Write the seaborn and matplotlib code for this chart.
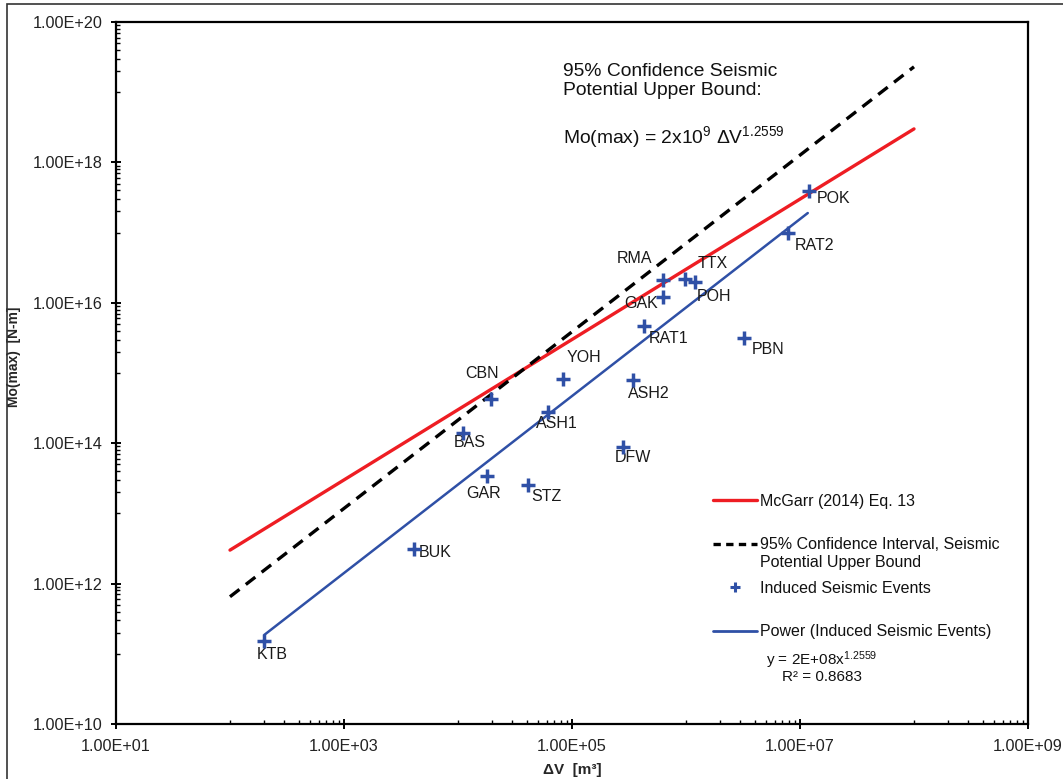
import numpy as np
import pandas as pd
import matplotlib
matplotlib.use("Agg")
import matplotlib.pyplot as plt
import matplotlib.ticker as mticker
from matplotlib.lines import Line2D
from matplotlib.patches import Rectangle
import seaborn as sns

# data
sites = ["KTB", "BUK", "BAS", "GAR", "CBN", "STZ", "ASH1", "YOH", "DFW",
         "ASH2", "RAT1", "GAK", "RMA", "TTX", "POH", "PBN", "RAT2", "POK"]
delta_v = [2.0e2, 4.1e3, 1.1e4, 1.8e4, 1.95e4, 4.1e4, 6.2e4, 8.3e4, 2.8e5,
           3.4e5, 4.3e5, 6.3e5, 6.3e5, 9.8e5, 1.2e6, 3.2e6, 7.8e6, 1.2e7]
mo_max = [1.5e11, 3.1e12, 1.4e14, 3.4e13, 4.2e14, 2.5e13, 2.8e14, 8.1e14, 8.9e13,
          7.9e14, 4.6e15, 1.2e16, 2.1e16, 2.2e16, 2.0e16, 3.2e15, 1.0e17, 3.9e17]

# line end points
mcgarr_x = [1e2, 1e8]
mcgarr_y = [3.0e12, 3.0e18]
upper_x = [1e2, 1e8]
upper_y = [6.5e11, 2.3e19]
power_x = [2.0e2, 1.17e7]
power_y = [1.86e11, 1.9e17]

# label offsets in pixels (dx right, dy down)
label_offsets = {
    "KTB": (-8, 13), "BUK": (5, 3), "BAS": (-9, 10), "GAR": (-21, 17),
    "CBN": (-26, -26), "STZ": (3, 11), "ASH1": (-12, 12), "YOH": (4, -22),
    "DFW": (-8, 11), "ASH2": (-5, 13), "RAT1": (5, 12), "GAK": (-39, 6),
    "RMA": (-46, -22), "TTX": (13, -15), "POH": (2, 15), "PBN": (8, 12),
    "RAT2": (7, 13), "POK": (8, 7),
}

RED = "#EE1D23"
BLUE = "#2F50A6"

sns.set_style("ticks")
plt.rcParams["font.family"] = ["Liberation Sans", "DejaVu Sans"]
plt.rcParams["mathtext.fontset"] = "custom"
plt.rcParams["mathtext.rm"] = "Liberation Sans"
plt.rcParams["text.color"] = "#111111"

W, H = 1063, 779
fig = plt.figure(figsize=(W / 100, H / 100), dpi=100)
ax = fig.add_axes([116 / W, 1 - 724 / H, (1028 - 116) / W, (724 - 22) / H])

df = pd.DataFrame({"site": sites, "dv": delta_v, "mo": mo_max})
lines = pd.DataFrame({
    "x": mcgarr_x + upper_x + power_x,
    "y": mcgarr_y + upper_y + power_y,
    "kind": ["mcgarr"] * 2 + ["upper"] * 2 + ["power"] * 2,
})

sns.lineplot(data=lines[lines.kind == "mcgarr"], x="x", y="y", color=RED,
             lw=2.4, ax=ax)
sns.lineplot(data=lines[lines.kind == "upper"], x="x", y="y", color="black",
             lw=2.4, ax=ax)
ax.lines[-1].set_linestyle((0, (3.6, 2.4)))
sns.lineplot(data=lines[lines.kind == "power"], x="x", y="y", color=BLUE,
             lw=1.8, ax=ax)
sns.scatterplot(data=df, x="dv", y="mo", marker="+", s=95, color=BLUE,
                linewidth=2.5, ax=ax, zorder=5)

for name, x, y in zip(sites, delta_v, mo_max):
    dx, dy = label_offsets[name]
    ax.annotate(name, (x, y), xytext=(dx, -dy), textcoords="offset pixels",
                ha="left", va="center", fontsize=11.5, color="#1a1a1a")

ax.set_xscale("log")
ax.set_yscale("log")
ax.set_xlim(1e1, 1e9)
ax.set_ylim(1e10, 1e20)

fmt = mticker.FuncFormatter(lambda v, p: f"{v:.2E}")
ax.xaxis.set_major_locator(mticker.FixedLocator([10.0 ** e for e in range(1, 10, 2)]))
ax.yaxis.set_major_locator(mticker.FixedLocator([10.0 ** e for e in range(10, 21, 2)]))
ax.xaxis.set_minor_locator(mticker.FixedLocator(
    [k * 10.0 ** e for e in range(2, 9, 2) for k in range(1, 10)]))
ax.yaxis.set_minor_locator(mticker.FixedLocator(
    [k * 10.0 ** e for e in range(11, 20, 2) for k in range(1, 10)]))
ax.xaxis.set_major_formatter(fmt)
ax.yaxis.set_major_formatter(fmt)
ax.xaxis.set_minor_formatter(mticker.NullFormatter())
ax.yaxis.set_minor_formatter(mticker.NullFormatter())
ax.tick_params(which="major", direction="inout", length=7, width=1.4,
               labelsize=11.7, colors="black", labelcolor="#222222", pad=6)
ax.tick_params(which="minor", direction="in", length=3, width=1.0, colors="black")
ax.tick_params(axis="x", pad=7)
for sp in ax.spines.values():
    sp.set_visible(True)
    sp.set_linewidth(1.6)
    sp.set_color("black")

ax.set_xlabel("ΔV  [m³]", fontsize=11, fontweight="bold", labelpad=7)
ax.set_ylabel("Mo(max)  [N-m]", fontsize=10, fontweight="bold")
ax.yaxis.set_label_coords(-0.104, 0.523)

# upper bound annotation
fig.text(563 / W, 1 - 81 / H, "95% Confidence Seismic\nPotential Upper Bound:",
         fontsize=13.9, ha="left", va="center", linespacing=1.2)
fig.text(563 / W, 1 - 137 / H,
         r"Mo(max) = 2x10$\mathregular{^{9}}$ ΔV$\mathregular{^{1.2559}}$",
         fontsize=13.9, ha="left", va="center")

# legend
handles = [
    Line2D([], [], color=RED, lw=2.4),
    Line2D([], [], color="black", lw=2.4, linestyle=(0, (2.2, 1.6))),
    Line2D([], [], color=BLUE, marker="+", linestyle="none", markersize=7, mew=2.2),
    Line2D([], [], color=BLUE, lw=2.0),
]
labels = ["McGarr (2014) Eq. 13", "95% Confidence Interval, Seismic",
          "Induced Seismic Events", "Power (Induced Seismic Events)"]
leg = fig.legend(handles, labels, loc="upper left",
                 bbox_to_anchor=(713 / W, 1 - 494 / H), frameon=False,
                 fontsize=11.5, handlelength=2.75, handletextpad=0.2,
                 labelspacing=1.78, borderpad=0, borderaxespad=0)

fig.canvas.draw()
bb = leg.get_texts()[1].get_window_extent()
fig.text(bb.x0 / W, (bb.y0 - 3) / H, "Potential Upper Bound", fontsize=11.5,
         ha="left", va="top")

fig.text(822 / W, 1 - 660 / H, r"y = 2E+08x$\mathregular{^{1.2559}}$",
         fontsize=11, ha="center", va="center")
fig.text(822 / W, 1 - 677 / H, "R² = 0.8683", fontsize=11, ha="center", va="center")

# outer chart border
fig.add_artist(Rectangle((7 / W, -0.1), 2, 1.1 - 4 / H, transform=fig.transFigure,
                         fill=False, lw=1.2, edgecolor="#333333"))

fig.savefig("out.png", dpi=100)
